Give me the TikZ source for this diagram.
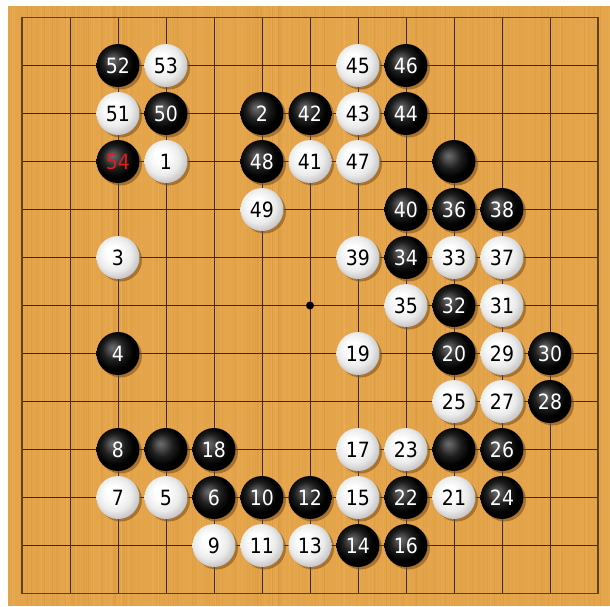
\documentclass[tikz,border=0pt]{standalone}
\usepackage{fontspec}
\newfontfamily\stonefont{DejaVu Sans Condensed}
\usetikzlibrary{shadows}
\definecolor{wood}{RGB}{228,164,74}
\definecolor{wooddark}{RGB}{205,140,55}
\definecolor{woodlight}{RGB}{243,188,105}
\definecolor{gridline}{RGB}{60,42,18}
\definecolor{gridborder}{RGB}{95,65,25}
\definecolor{shadowc}{RGB}{120,75,20}
\definecolor{redtext}{RGB}{225,30,30}
\pgfdeclareradialshading{blackstoneshade}{\pgfpoint{-7bp}{7bp}}{color(0bp)=(black!58); color(5bp)=(black!68); color(13bp)=(black!88); color(22bp)=(black); color(50bp)=(black)}
\pgfdeclareradialshading{whitestoneshade}{\pgfpoint{-7bp}{7bp}}{color(0bp)=(white); color(8bp)=(white); color(20bp)=(black!8); color(30bp)=(black!26); color(36bp)=(black!40); color(50bp)=(black!40)}
\tikzset{
  stonebase/.style={circle, minimum size=43pt, inner sep=0pt,
    font=\stonefont\fontsize{21}{24}\selectfont,
    drop shadow={shadow xshift=2.5pt, shadow yshift=-2.5pt, fill=shadowc, opacity=0.55}},
  bst/.style={stonebase, shading=blackstoneshade, text=white},
  wst/.style={stonebase, shading=whitestoneshade, text=black},
}
\begin{document}
\begin{tikzpicture}[x=48pt,y=-48pt]
\useasboundingbox (-0.45833,-0.36458) rectangle (12.25,12.26042);
\fill[white] (-0.45833,-0.36458) rectangle (12.25,12.26042);
\fill[wood] (-0.29167,-0.23958) rectangle (12.25,12.26042);
% wood grain
\pgfmathsetseed{7}
\foreach \i in {1,...,200}{
  \pgfmathsetmacro{\gx}{-0.28+rnd*12.52}
  \pgfmathsetmacro{\go}{0.06+0.16*rnd}
  \draw[line width=0.9pt, draw=wooddark, opacity=\go] (\gx,-0.23958) -- (\gx,12.26042);
}
\foreach \i in {1,...,200}{
  \pgfmathsetmacro{\gx}{-0.28+rnd*12.52}
  \pgfmathsetmacro{\go}{0.06+0.16*rnd}
  \draw[line width=0.9pt, draw=woodlight, opacity=\go] (\gx,-0.23958) -- (\gx,12.26042);
}
% grid
\foreach \k in {1,...,11}{
  \draw[gridline, line width=1pt] (\k,0) -- (\k,12);
  \draw[gridline, line width=1pt] (0,\k) -- (12,\k);
}
\draw[gridborder, line width=1.6pt] (0,0) rectangle (12,12);
\fill[black] (6,6) circle (4pt);
% black stones
\node[bst] (b52) at (2,1) {52};
\node[bst] (b46) at (8,1) {46};
\node[bst] (b50) at (3,2) {50};
\node[bst] (b2) at (5,2) {2};
\node[bst] (b42) at (6,2) {42};
\node[bst] (b44) at (8,2) {44};
\node[bst, text=redtext] (b54) at (2,3) {54};
\node[bst] (b48) at (5,3) {48};
\node[bst] (bh1) at (9,3) {};
\node[bst] (b40) at (8,4) {40};
\node[bst] (b36) at (9,4) {36};
\node[bst] (b38) at (10,4) {38};
\node[bst] (b34) at (8,5) {34};
\node[bst] (b32) at (9,6) {32};
\node[bst] (b4) at (2,7) {4};
\node[bst] (b20) at (9,7) {20};
\node[bst] (b30) at (11,7) {30};
\node[bst] (b28) at (11,8) {28};
\node[bst] (b8) at (2,9) {8};
\node[bst] (bh2) at (3,9) {};
\node[bst] (b18) at (4,9) {18};
\node[bst] (bh3) at (9,9) {};
\node[bst] (b26) at (10,9) {26};
\node[bst] (b6) at (4,10) {6};
\node[bst] (b10) at (5,10) {10};
\node[bst] (b12) at (6,10) {12};
\node[bst] (b22) at (8,10) {22};
\node[bst] (b24) at (10,10) {24};
\node[bst] (b14) at (7,11) {14};
\node[bst] (b16) at (8,11) {16};
% white stones
\node[wst] (w53) at (3,1) {53};
\node[wst] (w45) at (7,1) {45};
\node[wst] (w51) at (2,2) {51};
\node[wst] (w43) at (7,2) {43};
\node[wst] (w1) at (3,3) {1};
\node[wst] (w41) at (6,3) {41};
\node[wst] (w47) at (7,3) {47};
\node[wst] (w49) at (5,4) {49};
\node[wst] (w3) at (2,5) {3};
\node[wst] (w39) at (7,5) {39};
\node[wst] (w33) at (9,5) {33};
\node[wst] (w37) at (10,5) {37};
\node[wst] (w35) at (8,6) {35};
\node[wst] (w31) at (10,6) {31};
\node[wst] (w19) at (7,7) {19};
\node[wst] (w29) at (10,7) {29};
\node[wst] (w25) at (9,8) {25};
\node[wst] (w27) at (10,8) {27};
\node[wst] (w17) at (7,9) {17};
\node[wst] (w23) at (8,9) {23};
\node[wst] (w7) at (2,10) {7};
\node[wst] (w5) at (3,10) {5};
\node[wst] (w15) at (7,10) {15};
\node[wst] (w21) at (9,10) {21};
\node[wst] (w9) at (4,11) {9};
\node[wst] (w11) at (5,11) {11};
\node[wst] (w13) at (6,11) {13};
\end{tikzpicture}
\end{document}
